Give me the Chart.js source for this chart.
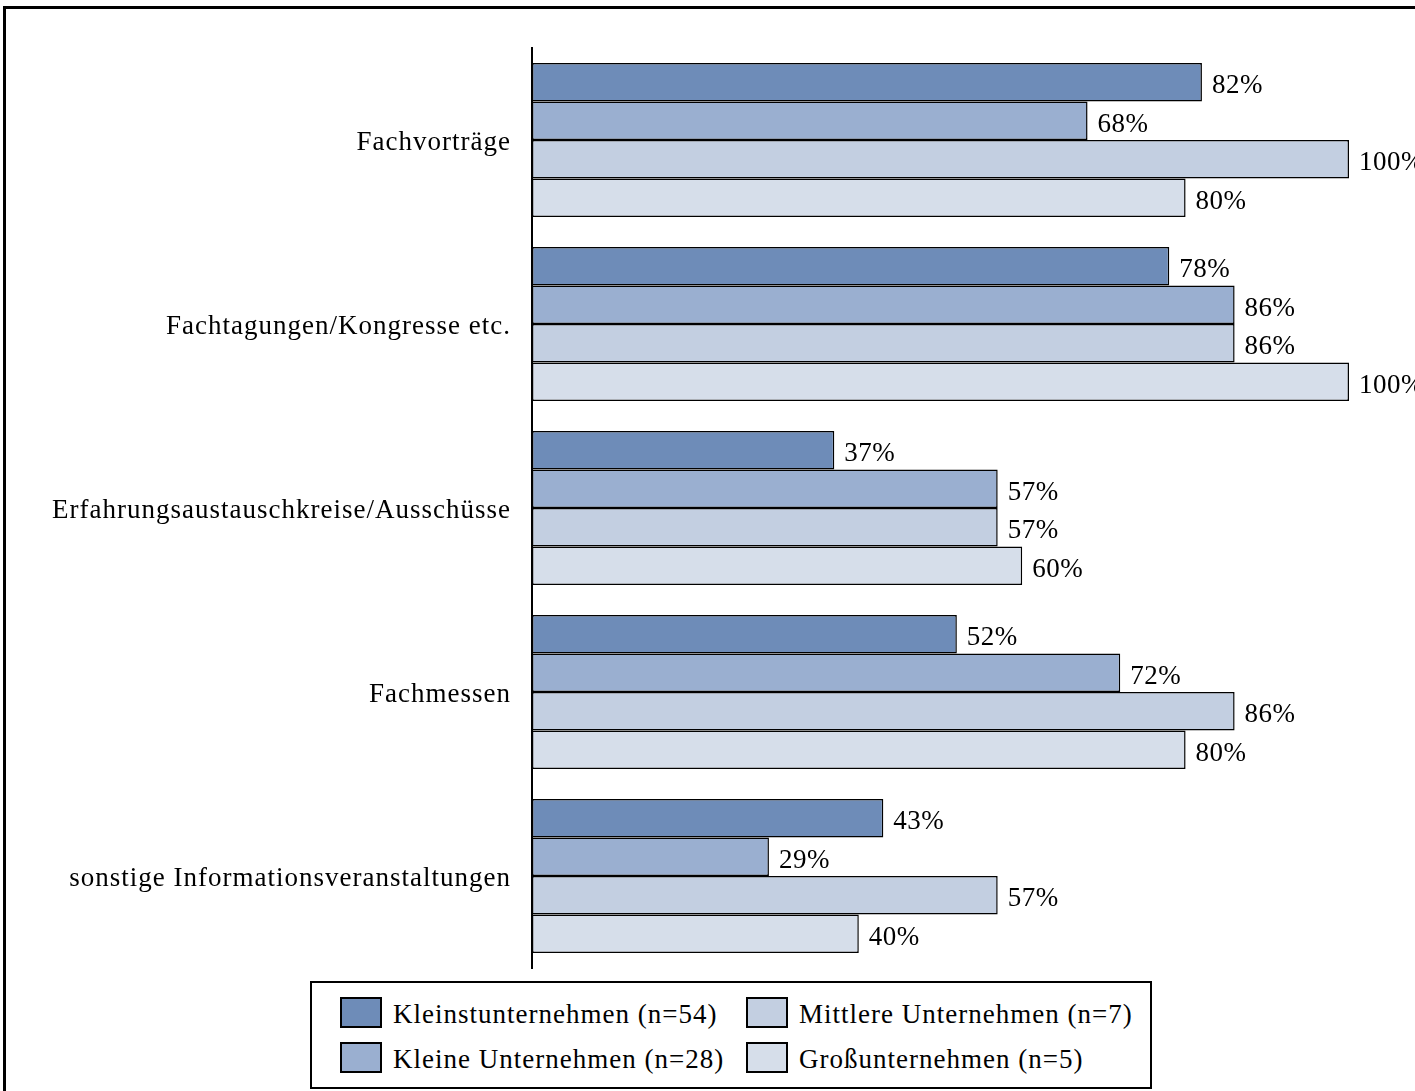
<!DOCTYPE html>
<html>
<head>
<meta charset="utf-8">
<script src="https://cdn.jsdelivr.net/npm/chart.js@4"></script>
<style>
  html, body { margin: 0; padding: 0; background: #fff; overflow: hidden; }
  body { width: 1415px; height: 1091px; position: relative; font-family: "Liberation Serif", "Times New Roman", serif; }
  #frame { position: absolute; left: 3px; top: 6px; width: 1500px; height: 1200px; border: 3px solid #000; box-sizing: border-box; }
  #wrap { position: absolute; left: 0; top: 0; width: 1415px; height: 1091px; }
  #legend { position: absolute; left: 310px; top: 981px; width: 842px; height: 108px; border: 2px solid #000; box-sizing: border-box; background: #fff; }
  .item { position: absolute; font-size: 27px; letter-spacing: 1px; line-height: 30px; color: #000; white-space: nowrap; }
  .item span.sw { position: absolute; left: 0; top: -1px; width: 42px; height: 31px; border: 2px solid #000; box-sizing: border-box; }
  .item span.tx { position: absolute; left: 53px; top: 1px; }
</style>
</head>
<body>
<div id="frame"></div>
<div id="wrap"><canvas id="chart" width="1415" height="1091"></canvas></div>
<div id="legend"></div>
<script>
const categories = [
  "Fachvorträge",
  "Fachtagungen/Kongresse etc.",
  "Erfahrungsaustauschkreise/Ausschüsse",
  "Fachmessen",
  "sonstige Informationsveranstaltungen"
];
const seriesNames = [
  "Kleinstunternehmen (n=54)",
  "Kleine Unternehmen (n=28)",
  "Mittlere Unternehmen (n=7)",
  "Großunternehmen (n=5)"
];
const kleinst = [82, 78, 37, 52, 43];
const kleine = [68, 86, 57, 72, 29];
const mittlere = [100, 86, 57, 86, 57];
const gross = [80, 100, 60, 80, 40];
const colors = ["#6e8cb8", "#9aafd0", "#c3cfe1", "#d6deea"];

const allValues = [kleinst, kleine, mittlere, gross];

// the original text is a bit wider than Liberation Serif, so space it out
const wideText = {
  id: "wideText",
  beforeDraw(chart) { chart.ctx.letterSpacing = "1px"; }
};

// value labels to the right of each bar
const valueLabels = {
  id: "valueLabels",
  afterDatasetsDraw(chart) {
    const ctx = chart.ctx;
    ctx.save();
    ctx.letterSpacing = "0.5px";
    ctx.font = "27px 'Liberation Serif'";
    ctx.fillStyle = "#000";
    ctx.textAlign = "left";
    ctx.textBaseline = "middle";
    chart.data.datasets.forEach((ds, i) => {
      chart.getDatasetMeta(i).data.forEach((bar, j) => {
        ctx.fillText(ds.data[j] + "%", bar.x + 10, bar.y + 4);
      });
    });
    ctx.restore();
  }
};

const ctx = document.getElementById("chart").getContext("2d");
new Chart(ctx, {
  type: "bar",
  data: {
    labels: categories,
    datasets: allValues.map((vals, i) => ({
      label: seriesNames[i],
      data: vals,
      backgroundColor: colors[i],
      borderColor: "#000",
      borderWidth: 1.5,
      borderSkipped: false,
      barPercentage: 1.0,
      categoryPercentage: 0.837
    }))
  },
  options: {
    indexAxis: "y",
    responsive: false,
    animation: false,
    layout: { padding: { left: 0, right: 66, top: 48, bottom: 123 } },
    plugins: { legend: { display: false }, tooltip: { enabled: false } },
    scales: {
      x: { display: false, min: 0, max: 100 },
      y: {
        grid: { display: false, drawTicks: false },
        border: { display: true, color: "#000", width: 2 },
        ticks: {
          color: "#000",
          padding: 21,
          labelOffset: 3,
          font: { family: "Liberation Serif", size: 27 }
        },
        afterFit(scale) { scale.width = 532; }
      }
    }
  },
  plugins: [wideText, valueLabels]
});

// legend, column-major like the original
const legend = document.getElementById("legend");
const pos = [[28, 15], [28, 60], [434, 15], [434, 60]];
seriesNames.forEach((name, i) => {
  const d = document.createElement("div");
  d.className = "item";
  d.style.left = pos[i][0] + "px";
  d.style.top = pos[i][1] + "px";
  d.innerHTML = `<span class="sw" style="background:${colors[i]}"></span><span class="tx">${name}</span>`;
  legend.appendChild(d);
});
</script>
</body>
</html>
